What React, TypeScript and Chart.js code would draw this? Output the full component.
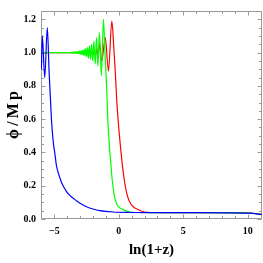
import React, { useEffect, useRef } from 'react';
import { Chart, registerables } from 'chart.js';

Chart.register(...registerables);

const X_MIN = -6.03;
const X_MAX = 11.1;
const Y_MIN = 0;
const Y_MAX = 1.25;

const xMajorTicks = [-5, 0, 5, 10];
const xMinorTicks = [-6, -4, -3, -2, -1, 1, 2, 3, 4, 6, 7, 8, 9, 11];
const yMajorTicks = [0, 0.2, 0.4, 0.6, 0.8, 1.0, 1.2];
const yMinorTicks = [0.05, 0.1, 0.15, 0.25, 0.3, 0.35, 0.45, 0.5, 0.55, 0.65, 0.7, 0.75, 0.85, 0.9, 0.95, 1.05, 1.1, 1.15];

const xTitle = 'ln(1+z)';
const yTitle = 'ϕ\u2009/\u2009M\u2009p';

// Blue curve
const blueX = [-6.0, -5.93, -5.74, -5.54, -5.4, -5.22, -5.09, -4.95, -4.83, -4.64, -4.44, -4.05, -3.7, -3.28, -2.9, -2.5, -2.0, -1.47, -0.45, 1.0, 3.0, 6.0, 8.5, 10.2, 10.7, 11.1];
const blueY = [0.9, 1.1, 0.85, 1.15, 0.88, 0.6, 0.47, 0.39, 0.32, 0.265, 0.22, 0.165, 0.135, 0.11, 0.09, 0.074, 0.06, 0.05, 0.042, 0.039, 0.038, 0.038, 0.037, 0.035, 0.031, 0.027];

// Red curve
const redX = [-6.0, -2.8, -2.7, -2.6, -2.5, -2.4, -2.3, -2.2, -2.1, -2.0, -1.9, -1.8, -1.7, -1.6, -1.5, -1.32, -1.05, -0.8, -0.54, -0.38, -0.27, -0.15, 0.02, 0.26, 0.41, 0.64, 0.93, 1.37, 2.0, 2.6, 4.0, 8.0, 10.2, 10.7, 11.1];
const redY = [1.0, 1.0, 1.003, 0.996, 1.006, 0.993, 1.009, 0.99, 1.013, 0.986, 1.018, 0.98, 1.025, 0.972, 1.06, 0.95, 1.09, 0.89, 1.19, 1.02, 0.88, 0.7, 0.527, 0.337, 0.242, 0.147, 0.09, 0.061, 0.042, 0.039, 0.038, 0.038, 0.036, 0.031, 0.027];

// Green curve
const greenX = [-6.0, -3.8, -3.7, -3.64, -3.58, -3.52, -3.46, -3.4, -3.34, -3.28, -3.22, -3.16, -3.1, -3.04, -2.98, -2.92, -2.86, -2.8, -2.74, -2.68, -2.62, -2.56, -2.49, -2.42, -2.35, -2.27, -2.19, -2.11, -2.02, -1.93, -1.83, -1.73, -1.62, -1.5, -1.35, -1.19, -1.07, -0.95, -0.85, -0.74, -0.62, -0.52, -0.36, -0.16, 0.21, 0.85, 1.5, 3.0, 8.0, 10.2, 10.7, 11.1];
const greenY = [1.0, 1.0, 0.998, 1.003, 0.997, 1.004, 0.996, 1.005, 0.995, 1.006, 0.994, 1.008, 0.992, 1.01, 0.99, 1.012, 0.988, 1.015, 0.985, 1.02, 0.98, 1.025, 0.975, 1.03, 0.965, 1.04, 0.96, 1.05, 0.95, 1.07, 0.93, 1.09, 0.92, 1.12, 0.86, 1.2, 1.0, 0.8, 0.6, 0.45, 0.337, 0.242, 0.147, 0.09, 0.061, 0.042, 0.039, 0.038, 0.038, 0.036, 0.031, 0.027];

const toPoints = (xs: number[], ys: number[]) => xs.map((x, i) => ({ x, y: ys[i] }));

const SERIF = "'Liberation Serif', 'Times New Roman', serif";

const framePlugin = {
  id: 'mmaFrame',
  beforeDatasetsDraw(chart: any) {
    const { ctx, chartArea, scales } = chart;
    const { left, right, top, bottom } = chartArea;
    const xs = scales.x;
    const ys = scales.y;
    ctx.save();
    ctx.strokeStyle = '#9a9a9a';
    ctx.lineWidth = 1;
    const L = Math.round(left) + 0.5;
    const R = Math.round(right) - 0.5;
    const T = Math.round(top) + 0.5;
    const B = Math.round(bottom) - 0.5;
    ctx.beginPath();
    ctx.moveTo(L, T); ctx.lineTo(R, T); ctx.lineTo(R, B); ctx.lineTo(L, B); ctx.closePath();
    ctx.stroke();
    const major = 4;
    const minor = 2.5;
    ctx.beginPath();
    const xt = (v: number, len: number) => {
      const p = Math.round(xs.getPixelForValue(v)) + 0.5;
      ctx.moveTo(p, B); ctx.lineTo(p, B - len);
      ctx.moveTo(p, T); ctx.lineTo(p, T + len);
    };
    const yt = (v: number, len: number) => {
      const p = Math.round(ys.getPixelForValue(v)) + 0.5;
      ctx.moveTo(L, p); ctx.lineTo(L + len, p);
      ctx.moveTo(R, p); ctx.lineTo(R - len, p);
    };
    xMajorTicks.forEach(v => xt(v, major));
    xMinorTicks.forEach(v => xt(v, minor));
    yMajorTicks.forEach(v => yt(v, major));
    yMinorTicks.forEach(v => yt(v, minor));
    ctx.stroke();
    ctx.restore();
  },
};

export default function App() {
  const ref = useRef<HTMLCanvasElement | null>(null);
  useEffect(() => {
    if (!ref.current) return;
    const lineOpts = {
      borderWidth: 1.2,
      pointRadius: 0,
      fill: false,
      cubicInterpolationMode: 'monotone' as const,
    };
    const chart = new Chart(ref.current, {
      type: 'line',
      data: {
        datasets: [
          { ...lineOpts, label: 'blue', data: toPoints(blueX, blueY), borderColor: '#0000ff' },
          { ...lineOpts, label: 'green', data: toPoints(greenX, greenY), borderColor: '#00ff00' },
          { ...lineOpts, label: 'red', data: toPoints(redX, redY), borderColor: '#ff0000' },
        ],
      },
      options: {
        animation: false,
        responsive: false,
        devicePixelRatio: 1,
        layout: { padding: { left: 0, right: 1, top: 0, bottom: 0 } },
        plugins: { legend: { display: false }, tooltip: { enabled: false } },
        scales: {
          x: {
            type: 'linear',
            min: X_MIN,
            max: X_MAX,
            grid: { display: false, drawTicks: false },
            border: { display: false },
            afterBuildTicks: (s: any) => { s.ticks = xMajorTicks.map(v => ({ value: v })); },
            afterFit: (s: any) => { s.height = 44; },
            ticks: {
              autoSkip: false,
              maxRotation: 0,
              padding: 6,
              color: '#000',
              font: { family: SERIF, size: 10, weight: 'bold' },
              callback: (v: any) => (v < 0 ? '\u2212' + Math.abs(v) : String(v)),
            },
            title: {
              display: true,
              text: xTitle,
              color: '#000',
              font: { family: SERIF, size: 15, weight: 'bold' },
              padding: { top: 0, bottom: 4 },
            },
          },
          y: {
            type: 'linear',
            min: Y_MIN,
            max: Y_MAX,
            grid: { display: false, drawTicks: false },
            border: { display: false },
            afterBuildTicks: (s: any) => { s.ticks = yMajorTicks.map(v => ({ value: v })); },
            afterFit: (s: any) => { s.width = 41; },
            ticks: {
              autoSkip: false,
              padding: 5,
              color: '#000',
              font: { family: SERIF, size: 10, weight: 'bold' },
              callback: (v: any) => Number(v).toFixed(1),
            },
            title: {
              display: true,
              text: yTitle,
              color: '#000',
              font: { family: SERIF, size: 16, weight: 'bold' },
              padding: { top: 4, bottom: 0 },
            },
          },
        },
      },
      plugins: [framePlugin],
    });
    return () => chart.destroy();
  }, []);
  return (
    <div style={{ position: 'fixed', left: 0, top: 0, width: 263, height: 263, background: '#fff' }}>
      <canvas ref={ref} width={263} height={263} style={{ display: 'block' }} />
    </div>
  );
}
